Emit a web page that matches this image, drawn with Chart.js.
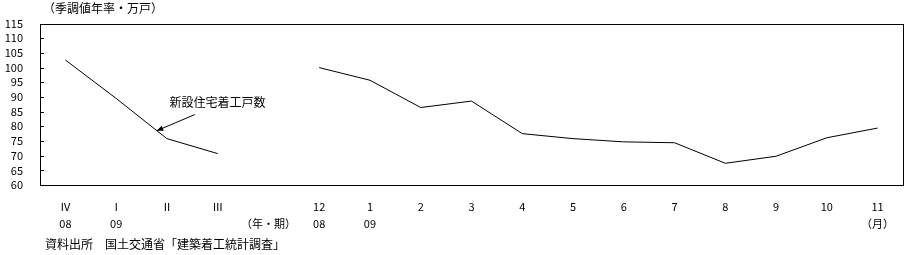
<!DOCTYPE html>
<html>
<head>
<meta charset="utf-8">
<script src="https://cdn.jsdelivr.net/npm/chart.js@4"></script>
<style>
    html, body { margin: 0; padding: 0; background: #fff; }
    #wrap { width: 908px; height: 255px; }
</style>
</head>
<body>
<div id="wrap"><canvas id="housingChart" width="908" height="255"></canvas></div>
<script>
// quarterly (年・期) and monthly (月) starts, seasonally adjusted annual rate, 万戸
const quarterLabels = [['Ⅳ', '08'], ['Ⅰ', '09'], ['Ⅱ', ''], ['Ⅲ', '']];
const quarterValues = [102.6, 89.5, 75.8, 70.7];
const gapLabel = ['', '（年・期）'];
const monthLabels = [['12', '08'], ['1', '09'], ['2', ''], ['3', ''], ['4', ''], ['5', ''],
    ['6', ''], ['7', ''], ['8', ''], ['9', ''], ['10', ''], ['11', '（月）']];
const monthValues = [100, 95.7, 86.4, 88.6, 77.5, 75.8, 74.7, 74.4, 67.4, 69.8, 76.1, 79.4];
const yTicks = [60, 65, 70, 75, 80, 85, 90, 95, 100, 105, 110, 115];

const seriesName = '新設住宅着工戸数';
const unitTitle = '（季調値年率・万戸）';
const sourceNote = '資料出所　国土交通省「建築着工統計調査」';

const jpFont = '"Noto Sans CJK JP", "Noto Sans", sans-serif';

const labels = [...quarterLabels, gapLabel, ...monthLabels];
const values = [...quarterValues, null, ...monthValues];

// frame, inward y ticks, texts and arrow
const decorations = {
    id: 'decorations',
    afterDraw(chart) {
        const ctx = chart.ctx;
        const area = chart.chartArea;
        const x = chart.scales.x;
        const y = chart.scales.y;
        ctx.save();
        ctx.strokeStyle = '#000';
        ctx.lineWidth = 1;
        ctx.strokeRect(Math.round(area.left) + 0.5, Math.round(area.top) + 0.5,
            Math.round(area.right - area.left), Math.round(area.bottom - area.top));

        ctx.beginPath();
        yTicks.forEach(v => {
            const py = Math.round(y.getPixelForValue(v)) + 0.5;
            ctx.moveTo(area.left, py);
            ctx.lineTo(area.left + 4, py);
        });
        ctx.stroke();

        ctx.fillStyle = '#000';
        ctx.font = '12px ' + jpFont;
        ctx.textBaseline = 'middle';
        ctx.textAlign = 'left';
        ctx.fillText(unitTitle, 43, 8);
        ctx.fillText(sourceNote, 45, 244);

        // series label with arrow
        const tx = x.getPixelForValue(2.05);
        const ty = y.getPixelForValue(88);
        ctx.fillText(seriesName, tx, ty);
        const sx = x.getPixelForValue(2.55);
        const sy = y.getPixelForValue(84);
        const ex = x.getPixelForValue(1.8);
        const ey = y.getPixelForValue(78.5);
        ctx.beginPath();
        ctx.moveTo(sx, sy);
        ctx.lineTo(ex, ey);
        ctx.stroke();
        const ang = Math.atan2(ey - sy, ex - sx);
        ctx.beginPath();
        ctx.moveTo(ex, ey);
        ctx.lineTo(ex - 7 * Math.cos(ang - 0.4), ey - 7 * Math.sin(ang - 0.4));
        ctx.lineTo(ex - 7 * Math.cos(ang + 0.4), ey - 7 * Math.sin(ang + 0.4));
        ctx.closePath();
        ctx.fill();
        ctx.restore();
    }
};

const ctx = document.getElementById('housingChart').getContext('2d');
new Chart(ctx, {
    type: 'line',
    data: {
        labels: labels,
        datasets: [{
            label: seriesName,
            data: values,
            borderColor: '#000',
            borderWidth: 1,
            pointRadius: 0,
            tension: 0,
            spanGaps: false,
            fill: false
        }]
    },
    options: {
        responsive: false,
        animation: false,
        devicePixelRatio: 1,
        layout: { padding: { top: 17, right: 5, left: 0, bottom: 0 } },
        plugins: {
            legend: { display: false },
            tooltip: { enabled: false }
        },
        scales: {
            x: {
                type: 'category',
                offset: true,
                grid: { display: false, drawTicks: false },
                border: { display: false },
                ticks: {
                    color: '#000',
                    autoSkip: false,
                    maxRotation: 0,
                    padding: 13,
                    font: { family: jpFont, size: 11, lineHeight: '17px' }
                },
                afterFit(scale) { scale.height = 70; }
            },
            y: {
                min: 60,
                max: 115,
                grid: { display: false, drawTicks: false },
                border: { display: false },
                afterBuildTicks(scale) {
                    scale.ticks = yTicks.map(v => ({ value: v }));
                },
                ticks: {
                    autoSkip: false,
                    color: '#000',
                    padding: 17,
                    font: { family: jpFont, size: 11 }
                },
                afterFit(scale) { scale.width = 40; }
            }
        }
    },
    plugins: [decorations]
});
</script>
</body>
</html>
